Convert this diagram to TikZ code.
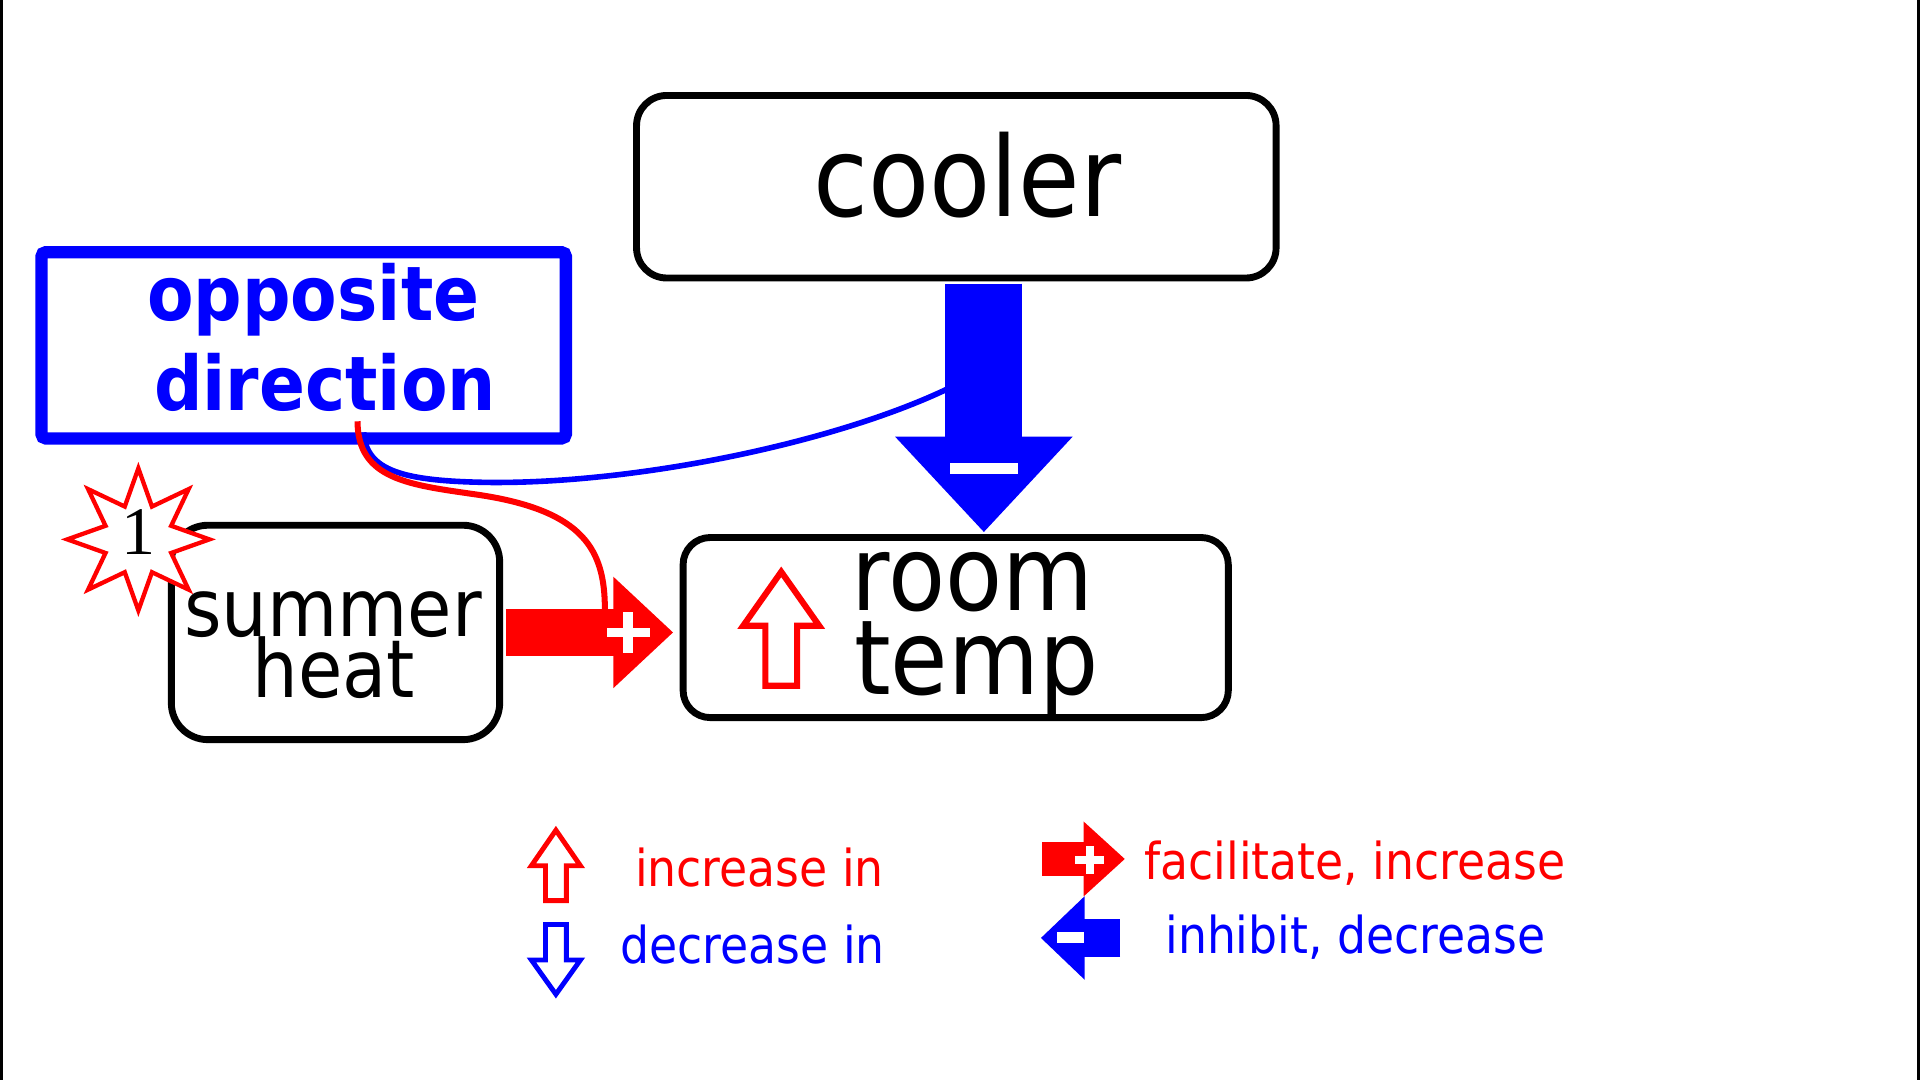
\documentclass[tikz,border=0pt]{standalone}
\usepackage{fontspec}
\setmainfont{DejaVu Sans Condensed}
\newfontfamily\numfont{Liberation Serif}
\usepackage{tikz}
\usetikzlibrary{positioning}
\usetikzlibrary{calc,arrows.meta,shapes.geometric}
\definecolor{upred}{RGB}{255,0,0}
\definecolor{downblue}{RGB}{0,0,255}

\begin{document}
\begin{tikzpicture}[x=0.01cm, y=-0.01cm,
    box/.style={draw, line width=1.6pt, fill=white, inner sep=0pt},
    inhib/.style={draw=downblue, line width=17.9pt, -{Triangle[width=39.8pt,length=22.2pt]}},
    facil/.style={draw=upred, line width=11.1pt, -{Triangle[width=25pt,length=13.9pt]}},
    hollow/.style={line width=1.42pt, fill=white, line join=miter},
    legendtxt/.style={anchor=base west, inner sep=0pt, font=\fontsize{11.8}{14}\selectfont}]
    % Frame
    \useasboundingbox (0,0) rectangle (1568,882);
    \fill (0,0) rectangle (2.5,882);
    \fill (1565.5,0) rectangle (1568,882);
    % Boxes
    \node [box, rounded corners=7pt, minimum width=5.22cm, minimum height=1.49cm] (cooler) at (781,152.5) {};
    \node [box, rounded corners=6.3pt, minimum width=4.45cm, minimum height=1.47cm] (roomtemp) at (780.5,512.5) {};
    \node [box, rounded corners=8.5pt, minimum width=2.68cm, minimum height=1.75cm] (summer) at (274,516.5) {};
    \node [box, draw=downblue, line width=2.85pt, rounded corners=1pt, minimum width=4.28cm, minimum height=1.52cm] (opposite) at (248,282) {};
    % Texts
    \node [anchor=base, font=\fontsize{25.8}{30}\selectfont] (coolertxt) at (790,177) {cooler};
    \node [anchor=base, font=\bfseries\fontsize{17.5}{21}\selectfont, text=downblue] (opptxt) at (256,262) {opposite};
    \node [anchor=base, font=\bfseries\fontsize{17.5}{21}\selectfont, text=downblue] (dirtxt) at (265.5,335) {direction};
    \node [anchor=base, inner sep=0pt, font=\fontsize{18.6}{22}\selectfont] (summertxt) at (272,519.5) {summer};
    \node [anchor=base, inner sep=0pt, font=\fontsize{18.6}{22}\selectfont] (heattxt) at (272.5,570) {heat};
    \node [anchor=base west, inner sep=0pt, font=\fontsize{24.1}{28}\selectfont] (roomtxt) at (695,498.5) {room};
    \node [anchor=base west, inner sep=0pt, font=\fontsize{24.1}{28}\selectfont] (temptxt) at (697,567.5) {temp};
    % Up arrow in room temp
    \draw [upred, hollow] (638,467) -- (669,511) -- (651,511) -- (651,560) -- (625,560) -- (625,511) -- (607,511) -- cycle;
    % Block arrows
    \coordinate (coolerout) at ($(cooler.south)+(22.5,0)$);
    \coordinate (coolertip) at (coolerout |- roomtemp.north);
    \draw [inhib, shorten <=0.5pt, shorten >=0.4pt] (coolerout) -- (coolertip);
    \coordinate (heattip) at (summer.east -| roomtemp.west);
    \draw [facil, shorten <=0.7pt, shorten >=1.5pt] (summer.east) -- (heattip);
    \coordinate (minusA) at ($(coolertip)+(0,-53.5)$);
    \fill [white] ($(minusA)+(-27.5,-4.75)$) rectangle ++(55,9.5);
    \coordinate (plusA) at ($(heattip)+(-42,0)$);
    \fill [white] ($(plusA)+(-17.5,-4)$) rectangle ++(35,8);
    \fill [white] ($(plusA)+(-4,-17)$) rectangle ++(8,34);
    % Curves
    \coordinate (oppstartR) at ($(opposite.south)+(44,-19)$);
    \coordinate (oppstartB) at ($(opposite.south)+(49,-10)$);
    \coordinate (heatjoin) at (494,498);
    \coordinate (coolerjoin) at (773,318);
    \draw [downblue, line width=1.3pt] (oppstartB) .. controls (299,385) and (330,393) .. (400,394)
        .. controls (520,395) and (680,362) .. (coolerjoin);
    \draw [upred, line width=1.4pt] (oppstartR) .. controls (292,392) and (335,396) .. (390,404)
        .. controls (478,417) and (494,450) .. (heatjoin);
    % Star
    \node [star, star points=8, star point ratio=2, minimum size=1.16cm, inner sep=0pt,
        draw=upred, fill=white, line width=1pt] (burst) at (113,440.5) {};
    \node [font=\numfont\fontsize{15.8}{18}\selectfont, inner sep=0pt] (burstnum) at (113,434.7) {1};
    % Legend
    \draw [upred, hollow, line width=1.14pt] (454,678) -- (474,707) -- (462.5,707) -- (462.5,735.5)
        -- (445.5,735.5) -- (445.5,707) -- (434,707) -- cycle;
    \draw [downblue, hollow, line width=1.14pt] (454,812) -- (474,784) -- (462.5,784) -- (462.5,755)
        -- (445.5,755) -- (445.5,784) -- (434,784) -- cycle;
    \draw [upred, line width=7.7pt, -{Triangle[width=16.8pt,length=9.6pt]}] (851,701.5) -- (918.7,701.5);
    \fill [white] (878,699) rectangle (902,706);
    \fill [white] (886.5,691) rectangle (893.5,714);
    \draw [downblue, line width=8.7pt, -{Triangle[width=18.8pt,length=10.2pt]}] (914.7,766) -- (850,766);
    \fill [white] (863,761) rectangle (885,770);
    \node [legendtxt, text=upred] (inctxt) at (518,724) {increase in};
    \node [legendtxt, text=downblue] (dectxt) at (506,787) {decrease in};
    \node [legendtxt, text=upred] (factxt) at (934,718) {facilitate, increase};
    \node [legendtxt, text=downblue] (inhtxt) at (951,779) {inhibit, decrease};
\end{tikzpicture}
\end{document}
